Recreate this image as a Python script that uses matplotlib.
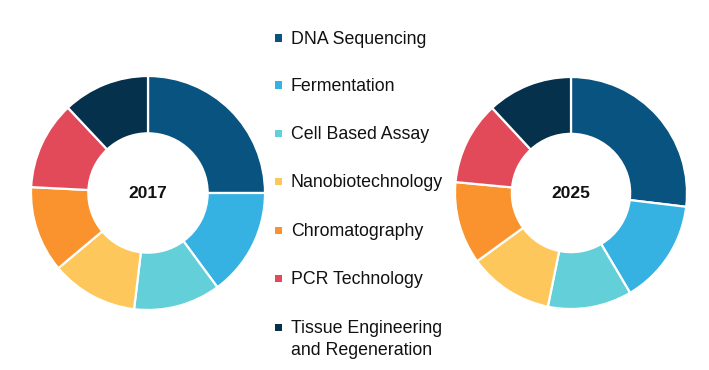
import matplotlib
matplotlib.use("Agg")
import matplotlib.pyplot as plt
from matplotlib.patches import Rectangle

categories = ["DNA Sequencing", "Fermentation", "Cell Based Assay", "Nanobiotechnology",
              "Chromatography", "PCR Technology", "Tissue Engineering\nand Regeneration"]
values_2017 = [25.0, 14.9, 12.0, 12.0, 11.9, 12.2, 12.0]
values_2025 = [26.9, 14.6, 11.7, 11.8, 11.5, 11.6, 11.9]
years = ["2017", "2025"]
colors = ["#08537f", "#35b2e2", "#63cfd8", "#fec75c", "#fa922d", "#e24a5a", "#06314d"]

W, H = 709, 370
fig = plt.figure(figsize=(W / 100, H / 100), dpi=100)
plt.rcParams['font.family'] = ['Liberation Sans', 'DejaVu Sans']

def donut(cx, cy, r, vals, label):
    ax = fig.add_axes([(cx - r) / W, (H - cy - r) / H, 2 * r / W, 2 * r / H])
    ax.pie(vals, colors=colors, startangle=90, counterclock=False, radius=1.0,
           wedgeprops=dict(width=0.49, edgecolor="white", linewidth=1.6))
    ax.set_xlim(-1, 1)
    ax.set_ylim(-1, 1)
    ax.set_aspect("auto")
    ax.axis("off")
    ax.text(0, 0, label, ha="center", va="center", fontsize=12.5, fontweight="bold", color="#111111")

donut(148, 193, 117, values_2017, years[0])
donut(571, 193, 116, values_2025, years[1])

rows_y = [38, 85, 133, 181, 230, 278, 327]
line_gap = 22
for lab, col, y in zip(categories, colors, rows_y):
    s = 7
    fig.patches.append(Rectangle(((278 - s / 2) / W, (H - y - s / 2) / H), s / W, s / H,
                                 transform=fig.transFigure, facecolor=col, edgecolor="none"))
    for i, line in enumerate(lab.split("\n")):
        fig.text(291 / W, (H - y - 1.5 - i * line_gap) / H, line, ha="left", va="center",
                 fontsize=12.8, color="#111111", transform=fig.transFigure)

fig.savefig("out.png", dpi=100, facecolor="white")
